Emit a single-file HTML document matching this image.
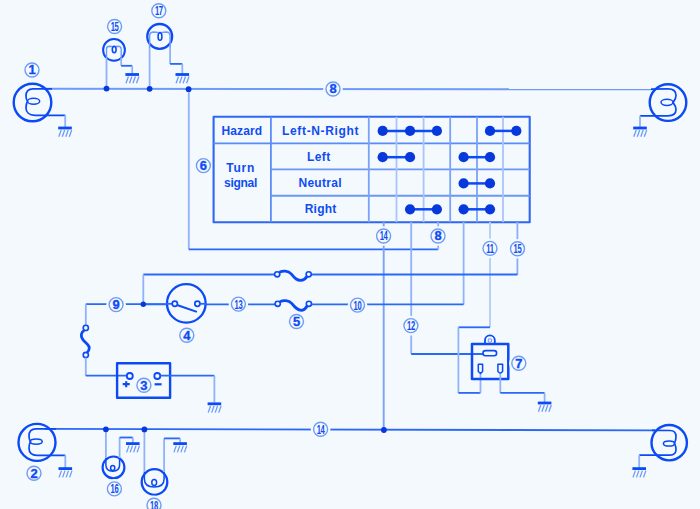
<!DOCTYPE html>
<html><head><meta charset="utf-8"><style>
html,body{margin:0;padding:0;background:#f4f9fe;}
svg{display:block;}
</style></head><body>
<svg width="700" height="509" viewBox="0 0 700 509" font-family="Liberation Sans, sans-serif">
<rect width="700" height="509" fill="#f4f9fe"/>
<g fill="none" stroke-linecap="butt" stroke-linejoin="round">
<path d="M45,88.8 L655,89.3" stroke="#6e9af8" stroke-width="1.9"/>
<circle cx="32.5" cy="102.5" r="18.8" stroke="#0b4af5" stroke-width="2.4"/>
<path d="M52,88.8 L33,88.8 C28,88.8 26,92 26,96 C26,99 27,100.5 27.5,101.2 C27,102 26,104 26,108 C26,112 29,115.3 35,115.3 L65.2,115.3" stroke="#0b4af5" stroke-width="1.7"/>
<path d="M65.2,115.3 L65.2,127" stroke="#8fb2f9" stroke-width="1.8"/>
<ellipse cx="33.6" cy="101.2" rx="6.1" ry="3" stroke="#0b4af5" stroke-width="1.5"/>
<line x1="58.2" y1="128" x2="71.8" y2="128" stroke="#0b4af5" stroke-width="2.8"/><line x1="58.8" y1="136.8" x2="61.199999999999996" y2="130" stroke="#6e9af8" stroke-width="1.3"/><line x1="62.3" y1="136.8" x2="64.7" y2="130" stroke="#6e9af8" stroke-width="1.3"/><line x1="65.8" y1="136.8" x2="68.2" y2="130" stroke="#6e9af8" stroke-width="1.3"/><line x1="69.3" y1="136.8" x2="71.7" y2="130" stroke="#6e9af8" stroke-width="1.3"/>
<circle cx="32" cy="70" r="9.8" fill="#f4f9fe" stroke="none"/>
<circle cx="32" cy="70" r="7.0" fill="#f4f9fe" stroke="#6f9bf7" stroke-width="1.4"/>
<text transform="translate(32,74.428) scale(1.05,1)" font-size="12.3" text-anchor="middle" fill="#0f4cf2" stroke="#0f4cf2" stroke-width="0.35" font-weight="bold" letter-spacing="0">1</text>
<circle cx="668" cy="102.6" r="18.3" stroke="#0b4af5" stroke-width="2.4"/>
<path d="M651,89.2 L668,88.9 C674,88.9 676,92 676,95.5 C676,99.5 673.5,101.5 673,102.5 C673.5,103.5 676,105.5 676,109.5 C676,113 674,115.8 668,115.8 L640,115.8" stroke="#0b4af5" stroke-width="1.7"/>
<path d="M640,115.8 L640,127.5" stroke="#8fb2f9" stroke-width="1.8"/>
<ellipse cx="667" cy="102.3" rx="6" ry="3.1" stroke="#0b4af5" stroke-width="1.5"/>
<line x1="633.2" y1="128" x2="646.8" y2="128" stroke="#0b4af5" stroke-width="2.8"/><line x1="633.8" y1="136.8" x2="636.1999999999999" y2="130" stroke="#6e9af8" stroke-width="1.3"/><line x1="637.3" y1="136.8" x2="639.6999999999999" y2="130" stroke="#6e9af8" stroke-width="1.3"/><line x1="640.8" y1="136.8" x2="643.1999999999999" y2="130" stroke="#6e9af8" stroke-width="1.3"/><line x1="644.3" y1="136.8" x2="646.6999999999999" y2="130" stroke="#6e9af8" stroke-width="1.3"/>
<circle cx="114" cy="49.9" r="10.9" stroke="#0b4af5" stroke-width="2"/>
<path d="M106.5,58 L106.5,49 Q106.6,46.2 109.5,46.2 L112.3,46.5 M116,46.5 L118.3,46.2 Q121.2,46.2 121.2,49 L121.2,58" stroke="#6e9af8" stroke-width="1.4"/>
<path d="M106.5,58 L106.5,88.5" stroke="#8fb2f9" stroke-width="1.8"/>
<path d="M121.2,58 L121.2,65.8" stroke="#8fb2f9" stroke-width="1.8"/>
<path d="M121.2,65.8 L132.2,65.8" stroke="#2a68f8" stroke-width="1.8"/>
<path d="M132.2,65.8 L132.2,73.5" stroke="#8fb2f9" stroke-width="1.8"/>
<ellipse cx="114.2" cy="49.6" rx="1.9" ry="3.2" stroke="#0b4af5" stroke-width="1.6"/>
<line x1="125.39999999999999" y1="74.5" x2="139.0" y2="74.5" stroke="#0b4af5" stroke-width="2.8"/><line x1="125.99999999999999" y1="83.3" x2="128.39999999999998" y2="76.5" stroke="#6e9af8" stroke-width="1.3"/><line x1="129.5" y1="83.3" x2="131.9" y2="76.5" stroke="#6e9af8" stroke-width="1.3"/><line x1="133.0" y1="83.3" x2="135.4" y2="76.5" stroke="#6e9af8" stroke-width="1.3"/><line x1="136.5" y1="83.3" x2="138.9" y2="76.5" stroke="#6e9af8" stroke-width="1.3"/>
<circle cx="114.6" cy="26.5" r="9.8" fill="#f4f9fe" stroke="none"/>
<circle cx="114.6" cy="26.5" r="7.0" fill="#f4f9fe" stroke="#6f9bf7" stroke-width="1.4"/>
<text transform="translate(114.6,30.928) scale(0.62,1)" font-size="12.3" text-anchor="middle" fill="#0f4cf2" stroke="#0f4cf2" stroke-width="0" font-weight="bold" letter-spacing="-0.5">15</text>
<circle cx="159.7" cy="36.4" r="12.4" stroke="#0b4af5" stroke-width="2.3"/>
<path d="M149.6,48 L149.6,36 Q149.6,32 154,32 L158,32.5 M161.8,32.5 L166,32 Q170.1,32 170.1,36 L170.1,48" stroke="#6e9af8" stroke-width="1.5"/>
<path d="M149.6,48 L149.6,88.7" stroke="#8fb2f9" stroke-width="1.8"/>
<path d="M170.1,48 L170.1,63.9" stroke="#8fb2f9" stroke-width="1.8"/>
<path d="M170.1,63.9 L182.3,63.9" stroke="#2a68f8" stroke-width="1.8"/>
<path d="M182.3,63.9 L182.3,73" stroke="#8fb2f9" stroke-width="1.8"/>
<ellipse cx="160" cy="36.4" rx="1.9" ry="3.8" stroke="#0b4af5" stroke-width="1.6"/>
<line x1="175.5" y1="74.5" x2="189.10000000000002" y2="74.5" stroke="#0b4af5" stroke-width="2.8"/><line x1="176.10000000000002" y1="83.3" x2="178.50000000000003" y2="76.5" stroke="#6e9af8" stroke-width="1.3"/><line x1="179.60000000000002" y1="83.3" x2="182.00000000000003" y2="76.5" stroke="#6e9af8" stroke-width="1.3"/><line x1="183.10000000000002" y1="83.3" x2="185.50000000000003" y2="76.5" stroke="#6e9af8" stroke-width="1.3"/><line x1="186.60000000000002" y1="83.3" x2="189.00000000000003" y2="76.5" stroke="#6e9af8" stroke-width="1.3"/>
<circle cx="158.8" cy="10.8" r="9.8" fill="#f4f9fe" stroke="none"/>
<circle cx="158.8" cy="10.8" r="7.0" fill="#f4f9fe" stroke="#6f9bf7" stroke-width="1.4"/>
<text transform="translate(158.8,15.228000000000002) scale(0.62,1)" font-size="12.3" text-anchor="middle" fill="#0f4cf2" stroke="#0f4cf2" stroke-width="0" font-weight="bold" letter-spacing="-0.5">17</text>
<circle cx="333" cy="89" r="9.8" fill="#f4f9fe" stroke="none"/>
<circle cx="333" cy="89" r="7.0" fill="#f4f9fe" stroke="#6f9bf7" stroke-width="1.4"/>
<text transform="translate(333,93.428) scale(1.05,1)" font-size="12.3" text-anchor="middle" fill="#0f4cf2" stroke="#0f4cf2" stroke-width="0.35" font-weight="bold" letter-spacing="0">8</text>
<path d="M188.8,89.2 L188.8,249.4" stroke="#8fb2f9" stroke-width="1.8"/>
<path d="M188.8,249.4 L438.2,249.4" stroke="#2a68f8" stroke-width="1.8"/>
<circle cx="203.4" cy="165.6" r="9.8" fill="#f4f9fe" stroke="none"/>
<circle cx="203.4" cy="165.6" r="7.0" fill="#f4f9fe" stroke="#6f9bf7" stroke-width="1.4"/>
<text transform="translate(203.4,170.028) scale(1.05,1)" font-size="12.3" text-anchor="middle" fill="#0f4cf2" stroke="#0f4cf2" stroke-width="0.35" font-weight="bold" letter-spacing="0">6</text>
<rect x="213.6" y="116.8" width="316.1" height="105.39999999999999" stroke="#2f66f3" stroke-width="2.1"/>
<path d="M270.9,116.8 L270.9,222.2" stroke="#5a8cf6" stroke-width="1.8"/>
<path d="M213.6,143.4 L529.7,143.4" stroke="#5a8cf6" stroke-width="1.9"/>
<path d="M270.9,169.4 L529.7,169.4" stroke="#6a96f7" stroke-width="1.9"/>
<path d="M270.9,195.8 L529.7,195.8" stroke="#6a96f7" stroke-width="1.9"/>
<path d="M368.8,116.8 L368.8,222.2" stroke="#7aa2f8" stroke-width="1.8"/>
<path d="M396.5,116.8 L396.5,222.2" stroke="#a9c4fa" stroke-width="1.8"/>
<path d="M423.6,116.8 L423.6,222.2" stroke="#a9c4fa" stroke-width="1.8"/>
<path d="M450.2,116.8 L450.2,222.2" stroke="#7aa2f8" stroke-width="1.8"/>
<path d="M477,116.8 L477,222.2" stroke="#7aa2f8" stroke-width="1.8"/>
<path d="M503,116.8 L503,222.2" stroke="#a9c4fa" stroke-width="1.8"/>
<text x="241.85000000000002" y="134.6" font-size="12" text-anchor="middle" fill="#0f4cf2" stroke="none" font-weight="bold" letter-spacing="0.1">Hazard</text>
<text x="320.625" y="134.6" font-size="12" text-anchor="middle" fill="#0f4cf2" stroke="none" font-weight="bold" letter-spacing="0.65">Left-N-Right</text>
<text x="240.72500000000002" y="171.8" font-size="12" text-anchor="middle" fill="#0f4cf2" stroke="none" font-weight="bold" letter-spacing="0.85">Turn</text>
<text x="240.54999999999998" y="186.8" font-size="12" text-anchor="middle" fill="#0f4cf2" stroke="none" font-weight="bold" letter-spacing="-0.3">signal</text>
<text x="318.82500000000005" y="160.8" font-size="12" text-anchor="middle" fill="#0f4cf2" stroke="none" font-weight="bold" letter-spacing="0.45">Left</text>
<text x="320.15" y="187.2" font-size="12" text-anchor="middle" fill="#0f4cf2" stroke="none" font-weight="bold" letter-spacing="0.3">Neutral</text>
<text x="320.625" y="213.4" font-size="12" text-anchor="middle" fill="#0f4cf2" stroke="none" font-weight="bold" letter-spacing="0.25">Right</text>
<path d="M383.7,222 L383.7,430" stroke="#7aa2f8" stroke-width="1.9"/>
<circle cx="383.6" cy="236" r="9.8" fill="#f4f9fe" stroke="none"/>
<circle cx="383.6" cy="236" r="7.0" fill="#f4f9fe" stroke="#6f9bf7" stroke-width="1.4"/>
<text transform="translate(383.6,240.428) scale(0.62,1)" font-size="12.3" text-anchor="middle" fill="#0f4cf2" stroke="#0f4cf2" stroke-width="0" font-weight="bold" letter-spacing="-0.5">14</text>
<path d="M411.2,222 L411.2,353.8" stroke="#8fb2f9" stroke-width="1.8"/>
<path d="M411.2,354 L483,354" stroke="#2a68f8" stroke-width="1.8"/>
<circle cx="410.9" cy="325.6" r="9.8" fill="#f4f9fe" stroke="none"/>
<circle cx="410.9" cy="325.6" r="7.0" fill="#f4f9fe" stroke="#6f9bf7" stroke-width="1.4"/>
<text transform="translate(410.9,330.028) scale(0.62,1)" font-size="12.3" text-anchor="middle" fill="#0f4cf2" stroke="#0f4cf2" stroke-width="0" font-weight="bold" letter-spacing="-0.5">12</text>
<path d="M438.2,222 L438.2,249.4" stroke="#8fb2f9" stroke-width="1.8"/>
<circle cx="438" cy="236" r="9.8" fill="#f4f9fe" stroke="none"/>
<circle cx="438" cy="236" r="7.0" fill="#f4f9fe" stroke="#6f9bf7" stroke-width="1.4"/>
<text transform="translate(438,240.428) scale(1.05,1)" font-size="12.3" text-anchor="middle" fill="#0f4cf2" stroke="#0f4cf2" stroke-width="0.35" font-weight="bold" letter-spacing="0">8</text>
<path d="M463.6,222 L463.6,304.5" stroke="#8fb2f9" stroke-width="1.8"/>
<path d="M143.3,304.4 L463.6,304.4" stroke="#2a68f8" stroke-width="1.8"/>
<path d="M490,222 L490,327.3" stroke="#b4cbfb" stroke-width="1.8"/>
<path d="M458.4,327.3 L490,327.3" stroke="#2a68f8" stroke-width="1.8"/>
<path d="M458.4,327.3 L458.4,392.9" stroke="#8fb2f9" stroke-width="1.8"/>
<path d="M458.4,392.9 L480.5,392.9" stroke="#2a68f8" stroke-width="1.8"/>
<path d="M480.5,373.5 L480.5,392.9" stroke="#8fb2f9" stroke-width="1.8"/>
<circle cx="490" cy="248.4" r="9.8" fill="#f4f9fe" stroke="none"/>
<circle cx="490" cy="248.4" r="7.0" fill="#f4f9fe" stroke="#6f9bf7" stroke-width="1.4"/>
<text transform="translate(490,252.828) scale(0.62,1)" font-size="12.3" text-anchor="middle" fill="#0f4cf2" stroke="#0f4cf2" stroke-width="0" font-weight="bold" letter-spacing="-0.5">11</text>
<path d="M517.4,222 L517.4,274.7" stroke="#8aaef9" stroke-width="1.8"/>
<path d="M143.3,274.5 L517.4,274.5" stroke="#2a68f8" stroke-width="1.8"/>
<path d="M143.3,274.5 L143.3,304.3" stroke="#8fb2f9" stroke-width="1.8"/>
<circle cx="517.5" cy="248.8" r="9.8" fill="#f4f9fe" stroke="none"/>
<circle cx="517.5" cy="248.8" r="7.0" fill="#f4f9fe" stroke="#6f9bf7" stroke-width="1.4"/>
<text transform="translate(517.5,253.228) scale(0.62,1)" font-size="12.3" text-anchor="middle" fill="#0f4cf2" stroke="#0f4cf2" stroke-width="0" font-weight="bold" letter-spacing="-0.5">15</text>
<rect x="277.2" y="270" width="31.5" height="12" fill="#f4f9fe" stroke="none"/>
<rect x="277.7" y="300" width="31.2" height="12" fill="#f4f9fe" stroke="none"/>
<path d="M279.5,272.3 C282.2,270.8 288.2,270.3 291.2,273.8 C295.2,278.8 297.2,280.5 301.2,280.3 C304.2,279.8 306.2,277.8 306.9,276.5" stroke="#0b4af5" stroke-width="2.8"/>
<circle cx="277.2" cy="274.3" r="2.6" fill="#f4f9fe" stroke="#0b4af5" stroke-width="1.6"/>
<circle cx="308.7" cy="274.3" r="2.6" fill="#f4f9fe" stroke="#0b4af5" stroke-width="1.6"/>
<path d="M280.0,301.8 C282.7,300.3 288.7,299.8 291.7,303.3 C295.7,308.3 297.7,310.0 301.7,310.40000000000003 C304.7,309.90000000000003 306.4,307.3 307.09999999999997,306.0" stroke="#0b4af5" stroke-width="2.8"/>
<circle cx="277.7" cy="303.8" r="2.6" fill="#f4f9fe" stroke="#0b4af5" stroke-width="1.6"/>
<circle cx="308.9" cy="303.8" r="2.6" fill="#f4f9fe" stroke="#0b4af5" stroke-width="1.6"/>
<circle cx="296.5" cy="321.5" r="9.8" fill="#f4f9fe" stroke="none"/>
<circle cx="296.5" cy="321.5" r="7.0" fill="#f4f9fe" stroke="#6f9bf7" stroke-width="1.4"/>
<text transform="translate(296.5,325.928) scale(1.05,1)" font-size="12.3" text-anchor="middle" fill="#0f4cf2" stroke="#0f4cf2" stroke-width="0.35" font-weight="bold" letter-spacing="0">5</text>
<circle cx="357.5" cy="305.1" r="9.8" fill="#f4f9fe" stroke="none"/>
<circle cx="357.5" cy="305.1" r="7.0" fill="#f4f9fe" stroke="#6f9bf7" stroke-width="1.4"/>
<text transform="translate(357.5,309.528) scale(0.62,1)" font-size="12.3" text-anchor="middle" fill="#0f4cf2" stroke="#0f4cf2" stroke-width="0" font-weight="bold" letter-spacing="-0.5">10</text>
<circle cx="238.4" cy="304.1" r="9.8" fill="#f4f9fe" stroke="none"/>
<circle cx="238.4" cy="304.1" r="7.0" fill="#f4f9fe" stroke="#6f9bf7" stroke-width="1.4"/>
<text transform="translate(238.4,308.528) scale(0.62,1)" font-size="12.3" text-anchor="middle" fill="#0f4cf2" stroke="#0f4cf2" stroke-width="0" font-weight="bold" letter-spacing="-0.5">13</text>
<circle cx="186.3" cy="303.4" r="19.3" fill="#f4f9fe" stroke="#0b4af5" stroke-width="2.3"/>
<path d="M166,303.8 L172,303.8" stroke="#2a68f8" stroke-width="1.8"/>
<path d="M200.5,303.8 L207,303.8" stroke="#2a68f8" stroke-width="1.8"/>
<circle cx="174.8" cy="303.7" r="2.6" fill="#f4f9fe" stroke="#0b4af5" stroke-width="1.7"/>
<circle cx="197.4" cy="303.7" r="2.6" fill="#f4f9fe" stroke="#0b4af5" stroke-width="1.7"/>
<path d="M177,305 L196.9,311.9" stroke="#0b4af5" stroke-width="2"/>
<circle cx="186.8" cy="335.3" r="9.8" fill="#f4f9fe" stroke="none"/>
<circle cx="186.8" cy="335.3" r="7.0" fill="#f4f9fe" stroke="#6f9bf7" stroke-width="1.4"/>
<text transform="translate(186.8,339.728) scale(1.05,1)" font-size="12.3" text-anchor="middle" fill="#0f4cf2" stroke="#0f4cf2" stroke-width="0.35" font-weight="bold" letter-spacing="0">4</text>
<path d="M85.8,304.2 L166,304.2" stroke="#2a68f8" stroke-width="1.8"/>
<path d="M85.8,304.2 L85.8,325.3" stroke="#8fb2f9" stroke-width="1.8"/>
<circle cx="116.1" cy="304.6" r="9.8" fill="#f4f9fe" stroke="none"/>
<circle cx="116.1" cy="304.6" r="7.0" fill="#f4f9fe" stroke="#6f9bf7" stroke-width="1.4"/>
<text transform="translate(116.1,309.028) scale(1.05,1)" font-size="12.3" text-anchor="middle" fill="#0f4cf2" stroke="#0f4cf2" stroke-width="0.35" font-weight="bold" letter-spacing="0">9</text>
<path d="M84.3,330.4 C81,332 80.5,336 82.5,339 C85,343 89.5,344.5 89.3,348 C89.1,350.5 88,352 87,352.6" stroke="#0b4af5" stroke-width="2.8"/>
<circle cx="85.8" cy="327.9" r="2.6" fill="#f4f9fe" stroke="#0b4af5" stroke-width="1.6"/>
<circle cx="85.8" cy="355" r="2.6" fill="#f4f9fe" stroke="#0b4af5" stroke-width="1.6"/>
<path d="M85.8,357.6 L85.8,375.7" stroke="#8fb2f9" stroke-width="1.8"/>
<path d="M85.8,375.7 L126.8,375.7" stroke="#2a68f8" stroke-width="1.8"/>
<rect x="117.1" y="363.3" width="53" height="34.5" stroke="#0b4af5" stroke-width="2.4"/>
<circle cx="129.8" cy="376" r="3" fill="#f4f9fe" stroke="#0b4af5" stroke-width="1.8"/>
<circle cx="157.3" cy="376" r="3" fill="#f4f9fe" stroke="#0b4af5" stroke-width="1.8"/>
<path d="M160.3,375.7 L214.4,375.7" stroke="#2a68f8" stroke-width="1.8"/>
<path d="M214.4,375.7 L214.4,402.5" stroke="#8fb2f9" stroke-width="1.8"/>
<line x1="207.6" y1="403.8" x2="221.20000000000002" y2="403.8" stroke="#0b4af5" stroke-width="2.8"/><line x1="208.20000000000002" y1="412.6" x2="210.60000000000002" y2="405.8" stroke="#6e9af8" stroke-width="1.3"/><line x1="211.70000000000002" y1="412.6" x2="214.10000000000002" y2="405.8" stroke="#6e9af8" stroke-width="1.3"/><line x1="215.20000000000002" y1="412.6" x2="217.60000000000002" y2="405.8" stroke="#6e9af8" stroke-width="1.3"/><line x1="218.70000000000002" y1="412.6" x2="221.10000000000002" y2="405.8" stroke="#6e9af8" stroke-width="1.3"/>
<path d="M122.7,384.1 L129.7,384.1 M126.2,381.2 L126.2,387.3" stroke="#0b4af5" stroke-width="2.1"/>
<path d="M154.6,384.3 L161.6,384.3" stroke="#0b4af5" stroke-width="2.2"/>
<circle cx="143.9" cy="385.2" r="9.8" fill="#f4f9fe" stroke="none"/>
<circle cx="143.9" cy="385.2" r="7.0" fill="#f4f9fe" stroke="#6f9bf7" stroke-width="1.4"/>
<text transform="translate(143.9,389.628) scale(1.05,1)" font-size="12.3" text-anchor="middle" fill="#0f4cf2" stroke="#0f4cf2" stroke-width="0.35" font-weight="bold" letter-spacing="0">3</text>
<rect x="472" y="344" width="36.3" height="35.1" stroke="#0b4af5" stroke-width="2.5"/>
<path d="M485,344 L485,340.3 A4.9,4.9 0 0 1 494.8,340.3 L494.8,344" stroke="#0b4af5" stroke-width="1.8"/>
<circle cx="489.9" cy="340.5" r="1.8" stroke="#6e9af8" stroke-width="1.1"/>
<rect x="483" y="350.6" width="13.6" height="5.2" rx="2.5" stroke="#0b4af5" stroke-width="1.6"/>
<path d="M478.3,364.3 L482.6,364.3 L482.6,371.5 L480.5,373.5 L478.3,371.5 Z" stroke="#0b4af5" stroke-width="1.5"/>
<path d="M497.9,364.3 L502.6,364.3 L502.6,371.5 L500.3,373.5 L497.9,371.5 Z" stroke="#0b4af5" stroke-width="1.5"/>
<path d="M500.3,373.6 L500.3,392.9" stroke="#8fb2f9" stroke-width="1.8"/>
<path d="M500.3,392.9 L544.6,392.9" stroke="#2a68f8" stroke-width="1.8"/>
<path d="M544.6,392.9 L544.6,402" stroke="#8fb2f9" stroke-width="1.8"/>
<line x1="537.8000000000001" y1="403" x2="551.4" y2="403" stroke="#0b4af5" stroke-width="2.8"/><line x1="538.4" y1="411.8" x2="540.8" y2="405" stroke="#6e9af8" stroke-width="1.3"/><line x1="541.9" y1="411.8" x2="544.3" y2="405" stroke="#6e9af8" stroke-width="1.3"/><line x1="545.4" y1="411.8" x2="547.8" y2="405" stroke="#6e9af8" stroke-width="1.3"/><line x1="548.9" y1="411.8" x2="551.3" y2="405" stroke="#6e9af8" stroke-width="1.3"/>
<circle cx="518.8" cy="363.3" r="9.8" fill="#f4f9fe" stroke="none"/>
<circle cx="518.8" cy="363.3" r="7.0" fill="#f4f9fe" stroke="#6f9bf7" stroke-width="1.4"/>
<text transform="translate(518.8,367.728) scale(1.05,1)" font-size="12.3" text-anchor="middle" fill="#0f4cf2" stroke="#0f4cf2" stroke-width="0.35" font-weight="bold" letter-spacing="0">7</text>
<path d="M45,428.9 L655,430.4" stroke="#2a68f8" stroke-width="1.9"/>
<circle cx="320.6" cy="429.3" r="9.8" fill="#f4f9fe" stroke="none"/>
<circle cx="320.6" cy="429.3" r="7.0" fill="#f4f9fe" stroke="#6f9bf7" stroke-width="1.4"/>
<text transform="translate(320.6,433.728) scale(0.62,1)" font-size="12.3" text-anchor="middle" fill="#0f4cf2" stroke="#0f4cf2" stroke-width="0" font-weight="bold" letter-spacing="-0.5">14</text>
<circle cx="37" cy="442.4" r="18.5" stroke="#0b4af5" stroke-width="2.4"/>
<path d="M56,428.9 L36,428.8 C31,428.8 29,432 29,436 C29,439 30,441 30.5,441.8 C30,442.6 29,445 29,448 C29,452 31,455.3 37,455.3 L65.3,455.3" stroke="#0b4af5" stroke-width="1.7"/>
<path d="M65.3,455.3 L65.3,468" stroke="#8fb2f9" stroke-width="1.8"/>
<ellipse cx="36.2" cy="441.6" rx="6" ry="2.6" stroke="#0b4af5" stroke-width="1.5"/>
<line x1="58.5" y1="468.6" x2="72.1" y2="468.6" stroke="#0b4af5" stroke-width="2.8"/><line x1="59.099999999999994" y1="477.40000000000003" x2="61.49999999999999" y2="470.6" stroke="#6e9af8" stroke-width="1.3"/><line x1="62.599999999999994" y1="477.40000000000003" x2="65.0" y2="470.6" stroke="#6e9af8" stroke-width="1.3"/><line x1="66.1" y1="477.40000000000003" x2="68.5" y2="470.6" stroke="#6e9af8" stroke-width="1.3"/><line x1="69.6" y1="477.40000000000003" x2="72.0" y2="470.6" stroke="#6e9af8" stroke-width="1.3"/>
<circle cx="34" cy="473.3" r="9.8" fill="#f4f9fe" stroke="none"/>
<circle cx="34" cy="473.3" r="7.0" fill="#f4f9fe" stroke="#6f9bf7" stroke-width="1.4"/>
<text transform="translate(34,477.728) scale(1.05,1)" font-size="12.3" text-anchor="middle" fill="#0f4cf2" stroke="#0f4cf2" stroke-width="0.35" font-weight="bold" letter-spacing="0">2</text>
<circle cx="669.2" cy="442.7" r="17.7" stroke="#0b4af5" stroke-width="2.4"/>
<path d="M652,430.4 L670,430.5 C674,430.5 676,433 676,436.5 C676,440 675,442 674.5,443.2 C675,444.4 676,446.5 676,449.5 C676,453 674,455.1 670,455.1 L639.2,455.1" stroke="#0b4af5" stroke-width="1.7"/>
<path d="M639.2,455.1 L639.2,468" stroke="#8fb2f9" stroke-width="1.8"/>
<ellipse cx="669" cy="443.5" rx="5.6" ry="2.6" stroke="#0b4af5" stroke-width="1.5"/>
<line x1="632.4000000000001" y1="468.6" x2="646.0" y2="468.6" stroke="#0b4af5" stroke-width="2.8"/><line x1="633.0" y1="477.40000000000003" x2="635.4" y2="470.6" stroke="#6e9af8" stroke-width="1.3"/><line x1="636.5" y1="477.40000000000003" x2="638.9" y2="470.6" stroke="#6e9af8" stroke-width="1.3"/><line x1="640.0" y1="477.40000000000003" x2="642.4" y2="470.6" stroke="#6e9af8" stroke-width="1.3"/><line x1="643.5" y1="477.40000000000003" x2="645.9" y2="470.6" stroke="#6e9af8" stroke-width="1.3"/>
<circle cx="113.5" cy="467.4" r="10.9" stroke="#0b4af5" stroke-width="2.2"/>
<path d="M105.9,458 L105.9,465 Q105.9,471.2 112.7,471.2 Q119.6,471.2 119.6,465 L119.6,458" stroke="#0b4af5" stroke-width="1.5"/>
<path d="M105.9,429.6 L105.9,458" stroke="#8fb2f9" stroke-width="1.8"/>
<path d="M119.6,437.5 L119.6,458" stroke="#8fb2f9" stroke-width="1.8"/>
<path d="M119.6,437.5 L132.8,437.5" stroke="#2a68f8" stroke-width="1.8"/>
<path d="M132.8,437.5 L132.8,443" stroke="#8fb2f9" stroke-width="1.8"/>
<ellipse cx="112.7" cy="468" rx="2.1" ry="2.4" stroke="#0b4af5" stroke-width="1.5"/>
<line x1="126.00000000000001" y1="443.6" x2="139.60000000000002" y2="443.6" stroke="#0b4af5" stroke-width="2.8"/><line x1="126.60000000000001" y1="452.40000000000003" x2="129.0" y2="445.6" stroke="#6e9af8" stroke-width="1.3"/><line x1="130.10000000000002" y1="452.40000000000003" x2="132.50000000000003" y2="445.6" stroke="#6e9af8" stroke-width="1.3"/><line x1="133.60000000000002" y1="452.40000000000003" x2="136.00000000000003" y2="445.6" stroke="#6e9af8" stroke-width="1.3"/><line x1="137.10000000000002" y1="452.40000000000003" x2="139.50000000000003" y2="445.6" stroke="#6e9af8" stroke-width="1.3"/>
<circle cx="114.4" cy="488.9" r="9.8" fill="#f4f9fe" stroke="none"/>
<circle cx="114.4" cy="488.9" r="7.0" fill="#f4f9fe" stroke="#6f9bf7" stroke-width="1.4"/>
<text transform="translate(114.4,493.328) scale(0.62,1)" font-size="12.3" text-anchor="middle" fill="#0f4cf2" stroke="#0f4cf2" stroke-width="0" font-weight="bold" letter-spacing="-0.5">16</text>
<circle cx="154.5" cy="482" r="12.8" stroke="#0b4af5" stroke-width="2.3"/>
<path d="M144.4,472 L144.4,479 Q144.4,487 154.2,487 Q164.1,487 164.1,479 L164.1,472" stroke="#0b4af5" stroke-width="1.5"/>
<path d="M144.4,429.6 L144.4,472" stroke="#8fb2f9" stroke-width="1.8"/>
<path d="M164.1,438.4 L164.1,472" stroke="#8fb2f9" stroke-width="1.8"/>
<path d="M164.1,438.4 L180.1,438.4" stroke="#2a68f8" stroke-width="1.8"/>
<path d="M180.1,438.4 L180.1,443" stroke="#8fb2f9" stroke-width="1.8"/>
<ellipse cx="154.2" cy="482.5" rx="2.4" ry="3" stroke="#0b4af5" stroke-width="1.5"/>
<line x1="173.29999999999998" y1="443.6" x2="186.9" y2="443.6" stroke="#0b4af5" stroke-width="2.8"/><line x1="173.9" y1="452.40000000000003" x2="176.3" y2="445.6" stroke="#6e9af8" stroke-width="1.3"/><line x1="177.4" y1="452.40000000000003" x2="179.8" y2="445.6" stroke="#6e9af8" stroke-width="1.3"/><line x1="180.9" y1="452.40000000000003" x2="183.3" y2="445.6" stroke="#6e9af8" stroke-width="1.3"/><line x1="184.4" y1="452.40000000000003" x2="186.8" y2="445.6" stroke="#6e9af8" stroke-width="1.3"/>
<circle cx="154" cy="505.2" r="9.8" fill="#f4f9fe" stroke="none"/>
<circle cx="154" cy="505.2" r="7.0" fill="#f4f9fe" stroke="#6f9bf7" stroke-width="1.4"/>
<text transform="translate(154,509.628) scale(0.62,1)" font-size="12.3" text-anchor="middle" fill="#0f4cf2" stroke="#0f4cf2" stroke-width="0" font-weight="bold" letter-spacing="-0.5">18</text>
<circle cx="106.5" cy="88.6" r="2.9" fill="#0638dc" stroke="none"/>
<circle cx="149.6" cy="88.8" r="2.9" fill="#0638dc" stroke="none"/>
<circle cx="188.6" cy="89.2" r="2.9" fill="#0638dc" stroke="none"/>
<path d="M382.65,130.9 L436.9,130.9" stroke="#0b4af5" stroke-width="2.5"/>
<circle cx="382.65" cy="130.9" r="5.1" fill="#0638dc" stroke="none"/>
<circle cx="410.05" cy="130.9" r="5.1" fill="#0638dc" stroke="none"/>
<circle cx="436.9" cy="130.9" r="5.1" fill="#0638dc" stroke="none"/>
<path d="M490.0,130.9 L516.35,130.9" stroke="#0b4af5" stroke-width="2.5"/>
<circle cx="490.0" cy="130.9" r="5.1" fill="#0638dc" stroke="none"/>
<circle cx="516.35" cy="130.9" r="5.1" fill="#0638dc" stroke="none"/>
<path d="M382.65,157.20000000000002 L410.05,157.20000000000002" stroke="#0b4af5" stroke-width="2.5"/>
<circle cx="382.65" cy="157.20000000000002" r="5.1" fill="#0638dc" stroke="none"/>
<circle cx="410.05" cy="157.20000000000002" r="5.1" fill="#0638dc" stroke="none"/>
<path d="M463.6,157.20000000000002 L490.0,157.20000000000002" stroke="#0b4af5" stroke-width="2.5"/>
<circle cx="463.6" cy="157.20000000000002" r="5.1" fill="#0638dc" stroke="none"/>
<circle cx="490.0" cy="157.20000000000002" r="5.1" fill="#0638dc" stroke="none"/>
<path d="M463.6,183.40000000000003 L490.0,183.40000000000003" stroke="#0b4af5" stroke-width="2.5"/>
<circle cx="463.6" cy="183.40000000000003" r="5.1" fill="#0638dc" stroke="none"/>
<circle cx="490.0" cy="183.40000000000003" r="5.1" fill="#0638dc" stroke="none"/>
<path d="M410.05,209.3 L436.9,209.3" stroke="#0b4af5" stroke-width="2.5"/>
<circle cx="410.05" cy="209.3" r="5.1" fill="#0638dc" stroke="none"/>
<circle cx="436.9" cy="209.3" r="5.1" fill="#0638dc" stroke="none"/>
<path d="M463.6,209.3 L490.0,209.3" stroke="#0b4af5" stroke-width="2.5"/>
<circle cx="463.6" cy="209.3" r="5.1" fill="#0638dc" stroke="none"/>
<circle cx="490.0" cy="209.3" r="5.1" fill="#0638dc" stroke="none"/>
<circle cx="383.9" cy="430" r="2.9" fill="#0638dc" stroke="none"/>
<circle cx="143.3" cy="304.2" r="2.7" fill="#0638dc" stroke="none"/>
<circle cx="105.9" cy="429.3" r="2.9" fill="#0638dc" stroke="none"/>
<circle cx="144.4" cy="429.4" r="2.9" fill="#0638dc" stroke="none"/>
</g>
</svg>
</body></html>
